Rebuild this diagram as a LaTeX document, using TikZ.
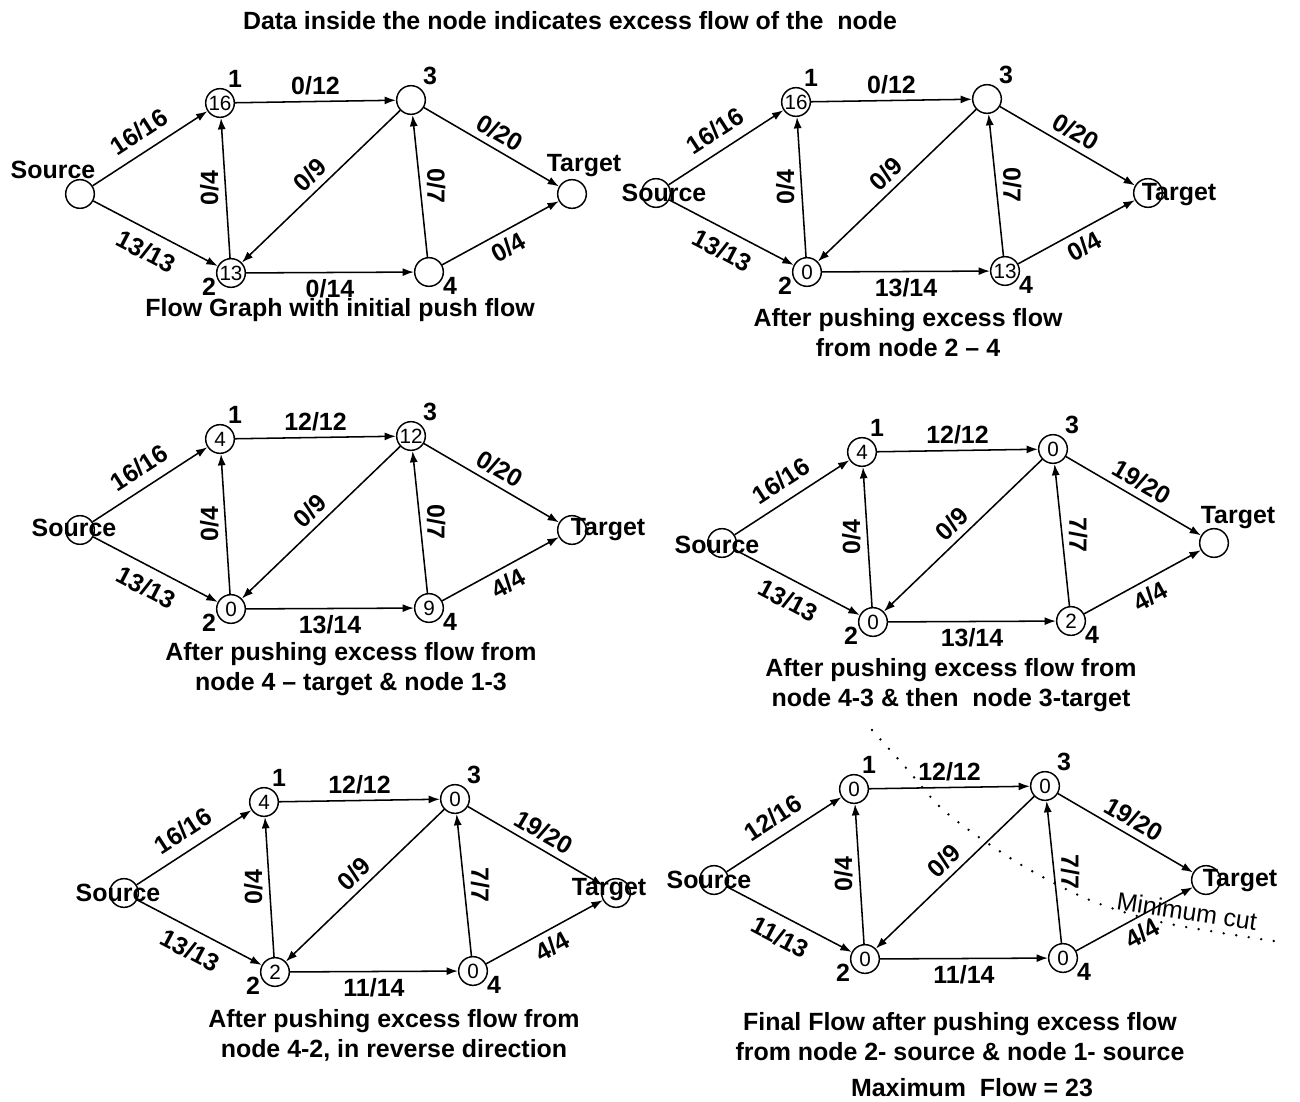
\documentclass[tikz,border=0pt]{standalone}
\usepackage{fontspec}
\setmainfont{Liberation Sans}
\usetikzlibrary{arrows.meta}
\tikzset{vtx/.style={circle,draw,line width=1.1pt,minimum size=21.5pt,inner sep=0pt,font=\fontsize{15.5}{15.5}\selectfont},flow/.style={draw,line width=1.15pt,-{Latex[length=8.5pt,width=6pt]}},elab/.style={font=\bfseries\fontsize{18.7}{18.7}\selectfont,inner sep=4.5pt},tag/.style={font=\bfseries\fontsize{18.7}{18.7}\selectfont,inner sep=0pt},uplab/.style={elab,midway,rotate=90,anchor=south},downlab/.style={elab,midway,rotate=-90,anchor=south},diaglab/.style={elab,midway,rotate=44,anchor=south},figcap/.style={font=\bfseries\fontsize{18.7}{22.5}\selectfont,align=center},cutline/.style={line width=2pt,line cap=round,dash pattern=on 0pt off 9.5pt},cutlab/.style={font=\fontsize{18.7}{18.7}\selectfont,inner sep=0pt}}

\newcommand{\flownet}[4]{%
  \node[vtx] (s) at (0,0) {};
  \node[vtx] (n1) at (140,-91) {#1};
  \node[vtx] (n3) at (331,-94) {#3};
  \node[vtx] (t) at (492,0) {};
  \node[vtx] (n2) at (151,79) {#2};
  \node[vtx] (n4) at (349,78) {#4};
  \node[tag] (m1) at (155,-115) {1};
  \node[tag] (m3) at (350,-118) {3};
  \node[tag] (m2) at (129,93) {2};
  \node[tag] (m4) at (370,92) {4};}
\newcommand{\flowedges}[9]{%
  \draw[flow] (s) -- node[elab,sloped,above=3pt] {#1} (n1);
  \draw[flow] (s) -- node[elab,sloped,below=3pt] {#2} (n2);
  \draw[flow] (n1) -- node[elab,above] {#3} (n3);
  \draw[flow] (n2) -- node[uplab] {#4} (n1);
  \draw[flow] (n3) -- node[diaglab] {#5} (n2);
  \draw[flow] (n4) -- node[downlab] {#6} (n3);
  \draw[flow] (n3) -- node[elab,sloped,above] {#7} (t);
  \draw[flow] (n4) -- node[elab,sloped,below] {#8} (t);
  \draw[flow] (n2) -- node[elab,below] {#9} (n4);}

\begin{document}
\begin{tikzpicture}[x=0.75pt,y=-0.75pt]
\useasboundingbox (0,0) rectangle (1300,1102);
\node[figcap] (title) at (570,21) {Data inside the node indicates excess flow of the\ \ node};

\begin{scope}[shift={(80,194)},name prefix=a-]
\flownet{16}{13}{}{}
\flowedges{16/16}{13/13}{0/12}{0/4}{0/9}{0/7}{0/20}{0/4}{0/14}
\node[tag] (src) at (-27,-24) {Source};
\node[tag] (tgt) at (504,-28) {Target};
\end{scope}
\node[figcap] (capa) at (340,310) {Flow Graph with initial push flow};

\begin{scope}[shift={(656,193)},name prefix=b-]
\flownet{16}{0}{}{13}
\flowedges{16/16}{13/13}{0/12}{0/4}{0/9}{0/7}{0/20}{0/4}{13/14}
\node[tag] (src) at (8,0) {Source};
\node[tag] (tgt) at (523,2) {Target};
\end{scope}
\node[figcap] (capb) at (908,333) {After pushing excess flow\\from node 2 – 4};

\begin{scope}[shift={(80,530)},name prefix=c-]
\flownet{4}{0}{12}{9}
\flowedges{16/16}{13/13}{12/12}{0/4}{0/9}{0/7}{0/20}{4/4}{13/14}
\node[tag] (src) at (-6,-2) {Source};
\node[tag] (tgt) at (528,0) {Target};
\end{scope}
\node[figcap] (capc) at (351,669) {After pushing excess flow from\\node 4 – target \& node 1-3};

\begin{scope}[shift={(722,543)},name prefix=d-]
\flownet{4}{0}{0}{2}
\flowedges{16/16}{13/13}{12/12}{0/4}{0/9}{7/7}{19/20}{4/4}{13/14}
\node[tag] (src) at (-5,2) {Source};
\node[tag] (tgt) at (516,-25) {Target};
\end{scope}
\node[figcap] (capd) at (951,685) {After pushing excess flow from\\node 4-3 \& then\ \ node 3-target};

\begin{scope}[shift={(124,893)},name prefix=e-]
\flownet{4}{2}{0}{0}
\flowedges{16/16}{13/13}{12/12}{0/4}{0/9}{7/7}{19/20}{4/4}{11/14}
\node[tag] (src) at (-6,0) {Source};
\node[tag] (tgt) at (485,-3) {Target};
\end{scope}
\node[figcap] (cape) at (394,1035) {After pushing excess flow from\\node 4-2, in reverse direction};

\begin{scope}[shift={(714,880)},name prefix=f-]
\flownet{0}{0}{0}{0}
\flowedges{12/16}{11/13}{12/12}{0/4}{0/9}{7/7}{19/20}{4/4}{11/14}
\node[tag] (src) at (-5,0) {Source};
\node[tag] (tgt) at (526,1) {Target};
\end{scope}
\draw[cutline] plot[smooth] coordinates {(872,730) (907,769) (940,807) (980,838) (1030,870) (1092,901) (1165,923) (1280,942)};
\node[cutlab,rotate=-8.5] (cut) at (1187,911) {Minimum cut};
\node[figcap] (capf) at (960,1037) {Final Flow after pushing excess flow\\from node 2- source \& node 1- source};
\node[figcap] (maxflow) at (972,1088) {Maximum\ \ Flow = 23};
\end{tikzpicture}
\end{document}
